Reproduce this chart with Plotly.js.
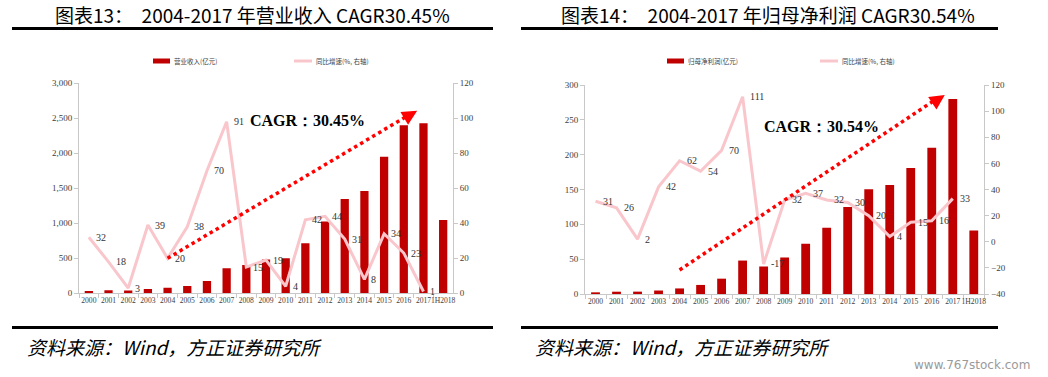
<!DOCTYPE html>
<html>
<head>
<meta charset="utf-8">
<script src="https://cdn.plot.ly/plotly-3.0.1.min.js"></script>
<style>html,body{margin:0;padding:0;background:#fff;}#chart{width:1048px;height:377px;}</style>
</head>
<body>
<div id="chart"></div>
<script>
// ---------- data ----------
const years = ['2000','2001','2002','2003','2004','2005','2006','2007','2008','2009','2010','2011','2012','2013','2014','2015','2016','2017','1H2018'];
const growthYears = years.slice(0, 18);

const revenue = [33, 43, 40, 62, 80, 105, 176, 357, 405, 482, 500, 715, 1024, 1348, 1462, 1951, 2400, 2429, 1048];
const revenueGrowth = [32, 18, 3, 39, 20, 38, 70, 98, 15, 19, 4, 42, 44, 31, 8, 34, 23, 1];
const revenueGrowthLabels = ['32','18','3','39','20','38','70','91','15','19','4','42','44','31','8','34','23','1'];

const profit = [2.4, 3.3, 3.4, 5, 8, 13, 22, 48, 39.5, 52.5, 72, 95, 125, 150.5, 156.5, 181, 210, 280, 91];
const profitGrowth = [31, 26, 2, 42, 62, 54, 70, 111, -17, 32, 37, 32, 30, 20, 4, 15, 16, 33];
const profitGrowthLabels = profitGrowth.map(String);

const titleLeft = '图表13：  2004-2017 年营业收入 CAGR30.45%';
const titleRight = '图表14：  2004-2017 年归母净利润 CAGR30.54%';
const legendBarLeft = '营业收入(亿元)';
const legendBarRight = '归母净利润(亿元)';
const legendLine = '同比增速(%, 右轴)';
const cagrLeft = 'CAGR：30.45%';
const cagrRight = 'CAGR：30.54%';
const sourceText = '资料来源：Wind，方正证券研究所';
const watermark = 'www.767stock.com';

// ---------- helpers ----------
const W = 1048, H = 377;
const px = v => v / W;
const py = v => 1 - v / H;

const BAR = '#c00000';
const PINK = '#f9c6cc';
const AXIS = '#c8c8c8';
const tickFont = {family: 'Liberation Serif, serif', size: 9, color: '#404040'};
const xTickFont = {family: 'Liberation Serif, serif', size: 7.6, color: '#404040'};

const traces = [
  {type: 'bar', x: years, y: revenue, xaxis: 'x', yaxis: 'y', marker: {color: BAR}, hoverinfo: 'skip'},
  {type: 'scatter', mode: 'lines', x: growthYears, y: revenueGrowth, xaxis: 'x', yaxis: 'y2', line: {color: PINK, width: 3}, hoverinfo: 'skip'},
  {type: 'bar', x: years, y: profit, xaxis: 'x2', yaxis: 'y3', marker: {color: BAR}, hoverinfo: 'skip'},
  {type: 'scatter', mode: 'lines', x: growthYears, y: profitGrowth, xaxis: 'x2', yaxis: 'y4', line: {color: PINK, width: 3}, hoverinfo: 'skip'}
];

function xAxis(domain, anchor) {
  return {domain, anchor, type: 'category', categoryorder: 'array', categoryarray: years,
    range: [-0.5, years.length - 0.5], autorange: false,
    showline: true, linecolor: AXIS, linewidth: 1,
    ticks: 'outside', tickson: 'boundaries', ticklen: 4, tickcolor: AXIS, tickfont: xTickFont,
    tickangle: 0, showgrid: false, zeroline: false, fixedrange: true};
}
function yAxis(domain, anchor, range, dtick, side, overlaying, fmt) {
  const a = {domain, anchor, range, autorange: false, dtick, side, showline: true, linecolor: AXIS, linewidth: 1,
    ticks: 'outside', ticklen: 4, tickcolor: AXIS, tickfont: tickFont, showgrid: false,
    zeroline: false, fixedrange: true, tickformat: fmt || ''};
  if (overlaying) a.overlaying = overlaying;
  return a;
}

const annotations = [];
const shapes = [];

// data labels (x given as category index)
const lblFont = {family: 'Liberation Serif, serif', size: 10, color: '#333'};
growthYears.forEach((yr, i) => {
  annotations.push({x: i, y: revenueGrowth[i], xref: 'x', yref: 'y2', text: revenueGrowthLabels[i],
    showarrow: false, xanchor: 'left', yanchor: 'middle', xshift: 5, font: lblFont});
  annotations.push({x: i, y: profitGrowth[i], xref: 'x2', yref: 'y4', text: profitGrowthLabels[i],
    showarrow: false, xanchor: 'left', yanchor: 'middle', xshift: 5, font: lblFont});
});

// titles
const titleFont = {family: 'Noto Sans CJK SC, sans-serif', size: 19, color: '#000'};
annotations.push({xref: 'paper', yref: 'paper', x: px(252), y: py(15), text: titleLeft, showarrow: false, xanchor: 'center', yanchor: 'middle', font: titleFont});
annotations.push({xref: 'paper', yref: 'paper', x: px(768), y: py(15), text: titleRight, showarrow: false, xanchor: 'center', yanchor: 'middle', font: titleFont});

// CAGR texts
const cagrFont = {family: 'Liberation Serif, serif', size: 16, color: '#000'};
annotations.push({xref: 'paper', yref: 'paper', x: px(307), y: py(121), text: '<b>' + cagrLeft + '</b>', showarrow: false, xanchor: 'center', yanchor: 'middle', font: cagrFont});
annotations.push({xref: 'paper', yref: 'paper', x: px(821), y: py(126), text: '<b>' + cagrRight + '</b>', showarrow: false, xanchor: 'center', yanchor: 'middle', font: cagrFont});

// legends
const legFont = {family: 'Noto Sans CJK SC, sans-serif', size: 6.5, color: '#404040'};
function legend(barX, lineX, y, barText) {
  shapes.push({type: 'rect', xref: 'paper', yref: 'paper', x0: px(barX), x1: px(barX + 17), y0: py(y + 2.5), y1: py(y - 2.5), fillcolor: BAR, line: {width: 0}});
  annotations.push({xref: 'paper', yref: 'paper', x: px(barX + 19), y: py(y), text: barText, showarrow: false, xanchor: 'left', yanchor: 'middle', font: legFont});
  shapes.push({type: 'line', xref: 'paper', yref: 'paper', x0: px(lineX), x1: px(lineX + 18), y0: py(y), y1: py(y), line: {color: PINK, width: 3}});
  annotations.push({xref: 'paper', yref: 'paper', x: px(lineX + 20), y: py(y), text: legendLine, showarrow: false, xanchor: 'left', yanchor: 'middle', font: legFont});
}
legend(153, 294, 61, legendBarLeft);
legend(667, 820, 61, legendBarRight);

// title and footer rules
[[12, 493], [521, 998]].forEach(([a, b]) => {
  shapes.push({type: 'line', xref: 'paper', yref: 'paper', x0: px(a), x1: px(b), y0: py(28.5), y1: py(28.5), line: {color: '#000', width: 3}});
  shapes.push({type: 'line', xref: 'paper', yref: 'paper', x0: px(a), x1: px(b), y0: py(327.5), y1: py(327.5), line: {color: '#000', width: 3}});
});

// source text
const srcFont = {family: 'Noto Sans CJK SC, sans-serif', size: 19, color: '#000'};
annotations.push({xref: 'paper', yref: 'paper', x: px(25), y: py(346), text: '<i>' + sourceText + '</i>', showarrow: false, xanchor: 'left', yanchor: 'middle', font: srcFont});
annotations.push({xref: 'paper', yref: 'paper', x: px(533), y: py(346), text: '<i>' + sourceText + '</i>', showarrow: false, xanchor: 'left', yanchor: 'middle', font: srcFont});
annotations.push({xref: 'paper', yref: 'paper', x: px(1032), y: py(365), text: watermark, showarrow: false, xanchor: 'right', yanchor: 'middle', font: {family: 'DejaVu Sans, sans-serif', size: 12, color: '#9a9a9a'}});

// CAGR trend arrows (dotted line + head), x as category index
const RED = '#ff0000';
shapes.push({type: 'line', xref: 'x', yref: 'y2', x0: 4, y0: 20, x1: 16.2, y1: 101.5, line: {color: RED, width: 3.5, dash: 'dot'}});
annotations.push({xref: 'x', yref: 'y2', x: 16.68, y: 104.3, ax: -11, ay: 6.5, showarrow: true, arrowhead: 2, arrowsize: 1, arrowwidth: 3, arrowcolor: RED, text: ''});
shapes.push({type: 'line', xref: 'x2', yref: 'y4', x0: 4, y0: -21.6, x1: 16.15, y1: 108.5, line: {color: RED, width: 3.5, dash: 'dot'}});
annotations.push({xref: 'x2', yref: 'y4', x: 16.62, y: 112.4, ax: -10.5, ay: 7, showarrow: true, arrowhead: 2, arrowsize: 1, arrowwidth: 3, arrowcolor: RED, text: ''});

const layout = {
  width: W, height: H, margin: {l: 0, r: 0, t: 0, b: 0},
  paper_bgcolor: '#fff', plot_bgcolor: 'rgba(0,0,0,0)', showlegend: false,
  bargap: 0.58,
  xaxis: xAxis([px(79), px(453)], 'y'),
  yaxis: yAxis([py(293.3), py(83.3)], 'x', [0, 3000], 500, 'left', null, ','),
  yaxis2: yAxis([py(293.3), py(83.3)], 'x', [0, 120], 20, 'right', 'y'),
  xaxis2: xAxis([px(585), px(984.3)], 'y3'),
  yaxis3: yAxis([py(294), py(85)], 'x2', [0, 300], 50, 'left'),
  yaxis4: yAxis([py(294), py(85)], 'x2', [-40, 120], 20, 'right', 'y3'),
  annotations, shapes
};

Plotly.newPlot('chart', traces, layout, {staticPlot: true, displayModeBar: false});
</script>
</body>
</html>
